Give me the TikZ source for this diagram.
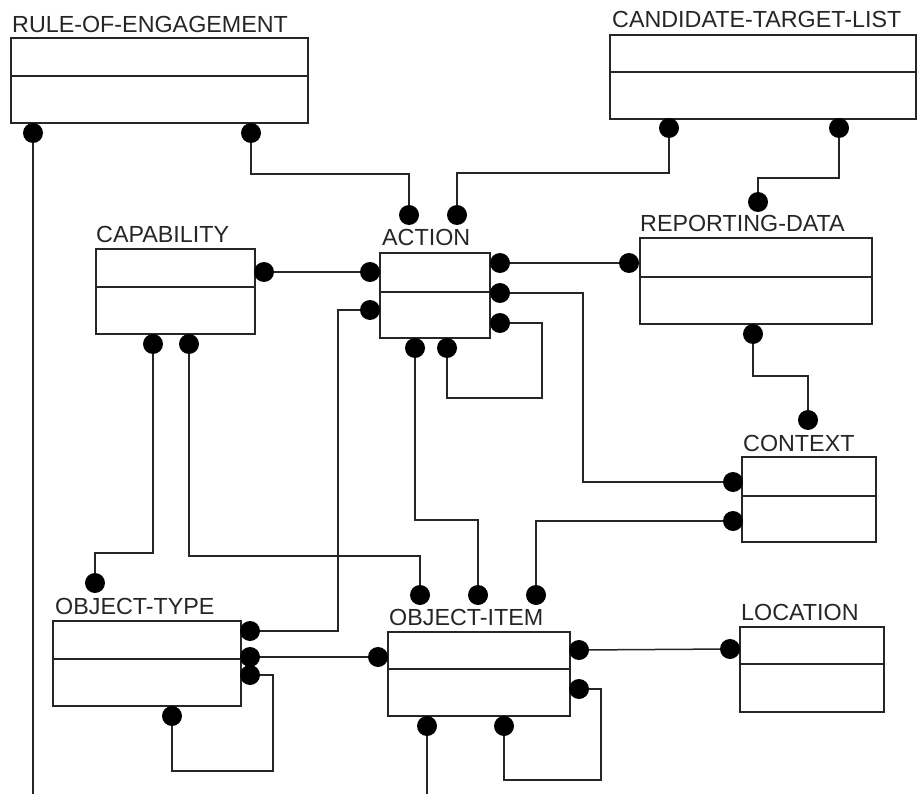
\documentclass[tikz,border=0pt]{standalone}
\usepackage{fontspec}
\setmainfont{Liberation Sans}
\tikzset{
  ln/.style={line width=1.5pt, black!85},
  ebox/.style={draw, line width=1.6pt, black!85, rectangle, inner sep=0pt, outer sep=0pt},
  dot/.style={circle, fill=black, inner sep=0pt, outer sep=0pt, minimum size=20pt},
  lbl/.style={anchor=base west, inner sep=0pt, text=black!85, font=\fontsize{23.3pt}{28pt}\selectfont}
}
\newcommand\ERbox[6]{%
  \node[ebox, minimum width={(#4-#2)*1pt}, minimum height={(#5-#3)*1pt}] (#1) at ({(#2+#4)/2},{(#3+#5)/2}) {};
  \draw[ln] (#1.west |- 0,#6) -- (#1.east |- 0,#6);
}
\begin{document}
\begin{tikzpicture}[x=1pt,y=-1pt]
\useasboundingbox (0,0) rectangle (918,794);
\fill[white] (0,0) rectangle (918,794);

% entities
\ERbox{roe}{11}{38}{308}{123}{76}
\ERbox{ctl}{610}{35}{916}{119}{72}
\ERbox{cap}{96}{249}{255}{334}{287}
\ERbox{act}{380}{253}{490}{338}{292}
\ERbox{rd}{640}{238}{872}{324}{277}
\ERbox{ctx}{742}{457}{876}{542}{496}
\ERbox{ot}{53}{621}{241}{706}{659}
\ERbox{oi}{388}{632}{570}{716}{669}
\ERbox{loc}{740}{627}{884}{712}{664}

% labels
\node[lbl] (roeL) at (12,33) {RULE-OF-ENGAGEMENT};
\node[lbl] (ctlL) at (612,28) {CANDIDATE-TARGET-LIST};
\node[lbl] (capL) at (96,243) {CAPABILITY};
\node[lbl] (actL) at (382,246) {ACTION};
\node[lbl] (rdL) at (640,232) {REPORTING-DATA};
\node[lbl] (ctxL) at (743,451) {CONTEXT};
\node[lbl] (otL) at (55,614) {OBJECT-TYPE};
\node[lbl] (oiL) at (389,625) {OBJECT-ITEM};
\node[lbl] (locL) at (741,620) {LOCATION};

% dots
\node[dot] (roe1) at (33,133) {};
\node[dot] (roe2) at (251,133) {};
\node[dot] (ctl1) at (669,128) {};
\node[dot] (ctl2) at (839,128) {};
\node[dot] (at1) at (409,215) {};
\node[dot] (at2) at (457,215) {};
\node[dot] (al1) at (370,272) {};
\node[dot] (al2) at (370,310) {};
\node[dot] (ar1) at (500,263) {};
\node[dot] (ar2) at (500,293) {};
\node[dot] (ar3) at (500,323) {};
\node[dot] (ab1) at (415,348) {};
\node[dot] (ab2) at (447,348) {};
\node[dot] (capr) at (264,272) {};
\node[dot] (capb1) at (153,344) {};
\node[dot] (capb2) at (189,344) {};
\node[dot] (rdt) at (758,202) {};
\node[dot] (rdl) at (629,263) {};
\node[dot] (rdb) at (753,334) {};
\node[dot] (ctxt) at (808,420) {};
\node[dot] (ctxl1) at (733,482) {};
\node[dot] (ctxl2) at (733,521) {};
\node[dot] (ott) at (95,583) {};
\node[dot] (otr1) at (250,631) {};
\node[dot] (otr2) at (250,657) {};
\node[dot] (otr3) at (250,675) {};
\node[dot] (otb) at (172,716) {};
\node[dot] (oit1) at (420,595) {};
\node[dot] (oit2) at (478,595) {};
\node[dot] (oit3) at (536,595) {};
\node[dot] (oil) at (378,657) {};
\node[dot] (oir1) at (579,650) {};
\node[dot] (oir2) at (579,689) {};
\node[dot] (oib1) at (427,726) {};
\node[dot] (oib2) at (504,726) {};
\node[dot] (locl) at (730,649) {};

\coordinate (roeEnd) at (33,794);
\coordinate (oiEnd) at (427,794);

% connectors
\draw[ln] (roe1) -- (roeEnd);
\draw[ln] (roe2) -- (roe2 |- 0,174) -| (at1);
\draw[ln] (ctl1) -- (ctl1 |- 0,173) -| (at2);
\draw[ln] (ctl2) -- (ctl2 |- 0,178) -| (rdt);
\draw[ln] (capr) -- (al1);
\draw[ln] (al2) -- (338,310) -- (338,631) -- (otr1);
\draw[ln] (ar1) -- (rdl);
\draw[ln] (ar2) -- (583,293) -- (583,482) -- (ctxl1);
\draw[ln] (ar3) -- (542,323) -- (542,398) -| (ab2);
\draw[ln] (ab1) -- (ab1 |- 0,520) -| (oit2);
\draw[ln] (capb1) -- (capb1 |- 0,553) -| (ott);
\draw[ln] (capb2) -- (capb2 |- 0,556) -| (oit1);
\draw[ln] (rdb) -- (rdb |- 0,376) -| (ctxt);
\draw[ln] (ctxl2) -- (536,521) -- (oit3);
\draw[ln] (otr2) -- (oil);
\draw[ln] (otr3) -- (273,675) -- (273,771) -| (otb);
\draw[ln] (oir1) -- (locl);
\draw[ln] (oir2) -- (601,689) -- (601,780) -| (oib2);
\draw[ln] (oib1) -- (oiEnd);
\end{tikzpicture}
\end{document}
